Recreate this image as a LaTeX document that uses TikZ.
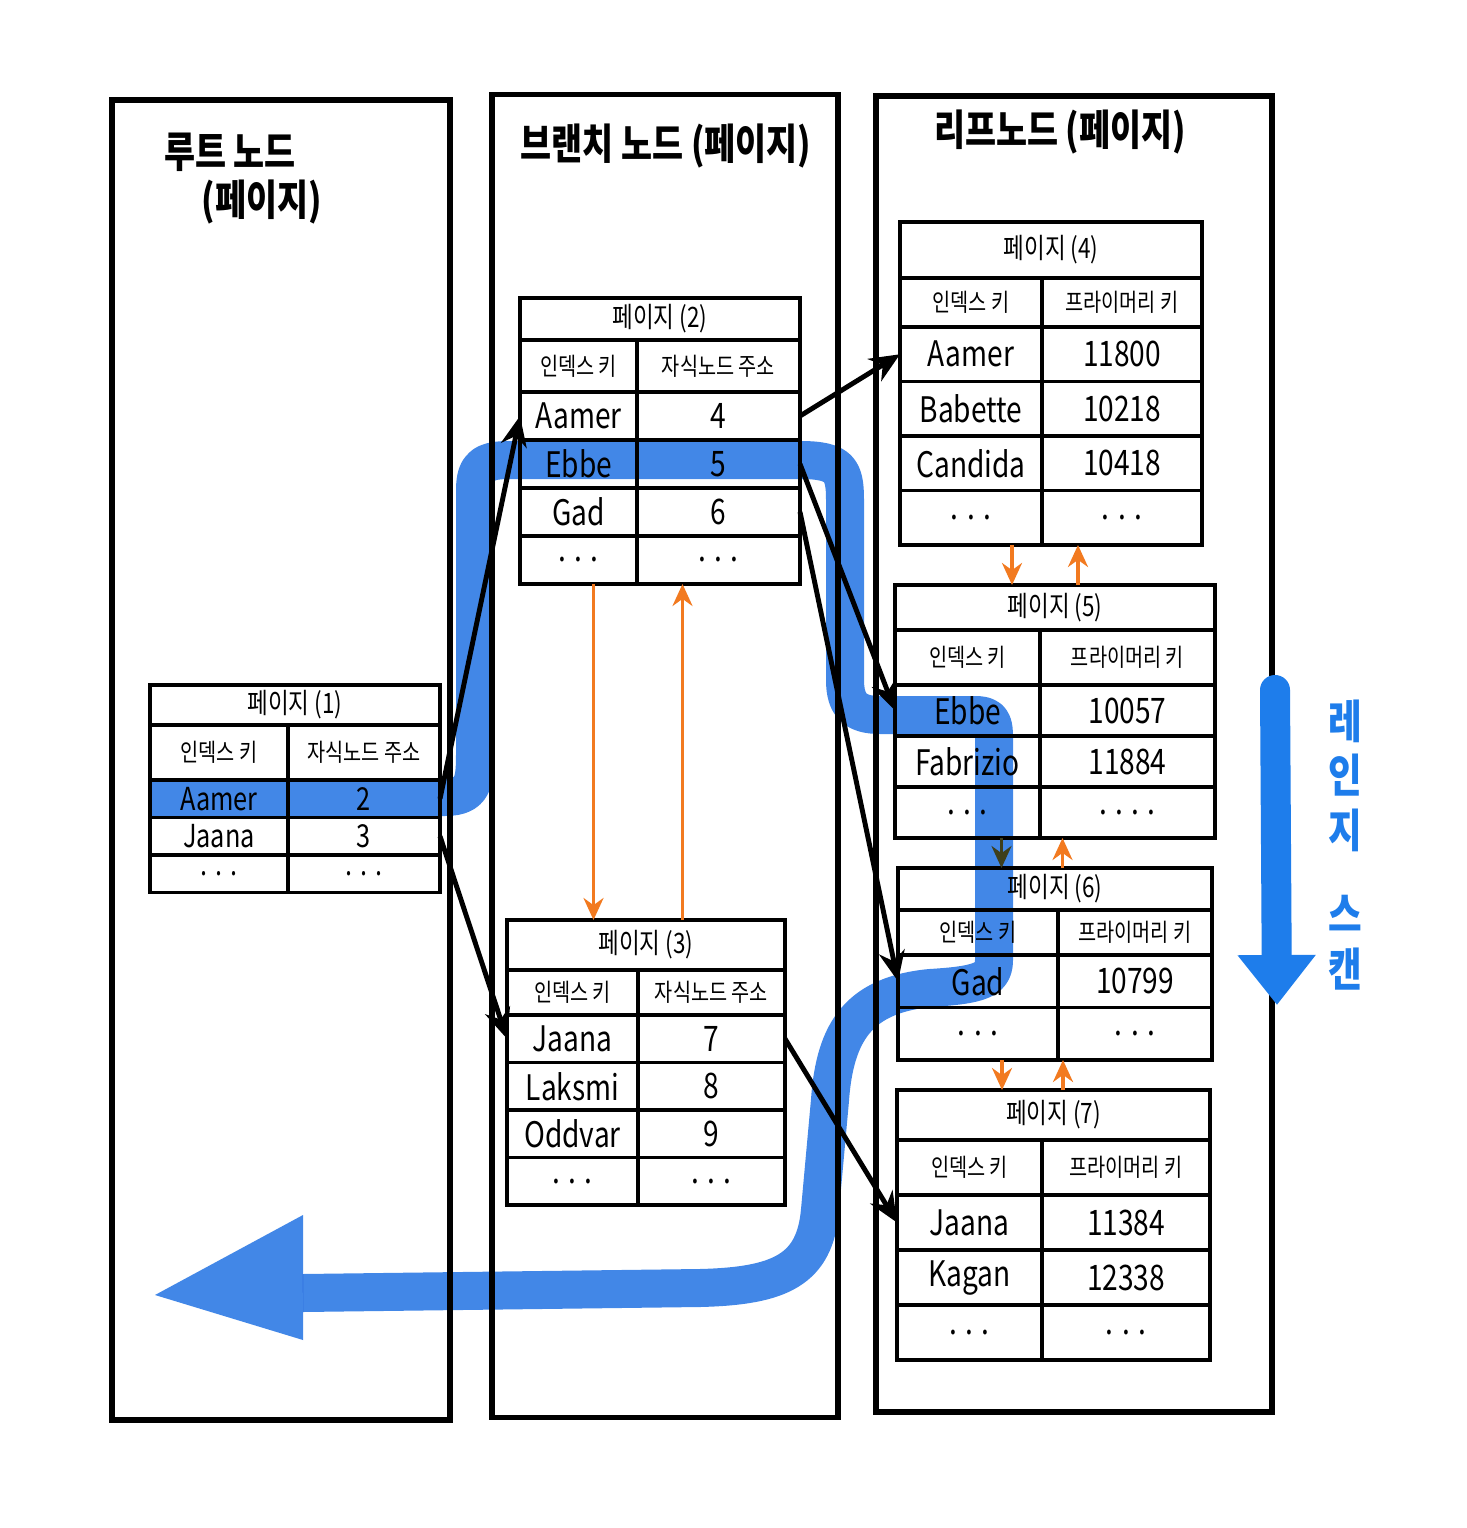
\documentclass[tikz,border=0pt]{standalone}
\usepackage{fontspec}
\setmainfont[FakeStretch=0.8]{Noto Sans CJK KR}
\usetikzlibrary{arrows.meta}
\usetikzlibrary{calc}
\usetikzlibrary{positioning}

\definecolor{hlblue}{RGB}{50,125,230}
\definecolor{scanblue}{RGB}{30,125,235}
\definecolor{linkorange}{RGB}{242,122,32}

\begin{document}
\begin{tikzpicture}[x=1mm, y=-1mm]
    \tikzset{
        every node/.style={font=\fontsize{10}{12}\selectfont},
        frame/.style={draw, line width=1.6pt, inner sep=0pt},
        coltitle/.style={font=\fontsize{12}{14}\selectfont\bfseries},
        cell/.style={draw, line width=1pt, inner sep=0pt, outer sep=0pt},
        pagetitle/.style={cell, font=\fontsize{8}{8}\selectfont},
        head/.style={font=\fontsize{7}{7}\selectfont},
        ptr/.style={line width=1.4pt, -{Stealth[length=3mm, width=2.6mm]}},
        link/.style={linkorange, line width=0.9pt, -{Stealth[length=2.2mm, width=2mm]}},
        marker/.style={hlblue, opacity=0.92, blend mode=multiply}
    }

    \fill[white] (0,0) rectangle (146.6,152.8);
    \useasboundingbox (0,0) rectangle (146.6,152.8);

    % draw the three levels
    \node[frame, minimum width=33.8mm, minimum height=132mm] (root) at (28.1,76) {};
    \node[frame, minimum width=34.6mm, minimum height=132.3mm] (branch) at (66.5,75.6) {};
    \node[frame, minimum width=39.6mm, minimum height=131.6mm] (leaf) at (107.4,75.4) {};
    \node[coltitle] (root-title) at (23,15.2) {루트 노드};
    \node[coltitle] (root-title2) at (26.2,20.2) {(페이지)};
    \node[coltitle] (branch-title) at (66.6,14.6) {브랜치 노드 (페이지)};
    \node[coltitle] (leaf-title) at (106,13.2) {리프노드 (페이지)};

    % draw page (1)
    \begin{scope}[kc/.style={cell, minimum width=13.8mm, minimum height=3.75mm, font=\fontsize{9}{9}\selectfont},
                  vc/.style={cell, minimum width=15.2mm, minimum height=3.75mm, font=\fontsize{9}{9}\selectfont},
                  hk/.style={kc, head, minimum height=5.5mm},
                  hv/.style={vc, head, minimum height=5.5mm}]
        \node[pagetitle, minimum width=29mm, minimum height=4mm, anchor=north west] (p1) at (15,68.5) {페이지 (1)};
        \node[hk, below right=0pt of p1.south west] (p1-hk) {인덱스 키};
        \node[hv, right=0pt of p1-hk] (p1-hv) {자식노드 주소};
        \node[kc, below=0pt of p1-hk] (p1-aamer) {Aamer};
        \node[vc, right=0pt of p1-aamer] (p1-aamer-v) {2};
        \node[kc, below=0pt of p1-aamer] (p1-jaana) {Jaana};
        \node[vc, right=0pt of p1-jaana] (p1-jaana-v) {3};
        \node[kc, below=0pt of p1-jaana] (p1-dots) {. . .};
        \node[vc, right=0pt of p1-dots] (p1-dots-v) {. . .};
    \end{scope}

    % draw page (2)
    \begin{scope}[kc/.style={cell, minimum width=11.7mm, minimum height=4.8mm},
                  vc/.style={cell, minimum width=16.3mm, minimum height=4.8mm},
                  hk/.style={kc, head, minimum height=5.2mm},
                  hv/.style={vc, head, minimum height=5.2mm}]
        \node[pagetitle, minimum width=28mm, minimum height=4.2mm, anchor=north west] (p2) at (52,29.8) {페이지 (2)};
        \node[hk, below right=0pt of p2.south west] (p2-hk) {인덱스 키};
        \node[hv, right=0pt of p2-hk] (p2-hv) {자식노드 주소};
        \node[kc, below=0pt of p2-hk] (p2-aamer) {Aamer};
        \node[vc, right=0pt of p2-aamer] (p2-aamer-v) {4};
        \node[kc, below=0pt of p2-aamer] (p2-ebbe) {Ebbe};
        \node[vc, right=0pt of p2-ebbe] (p2-ebbe-v) {5};
        \node[kc, below=0pt of p2-ebbe] (p2-gad) {Gad};
        \node[vc, right=0pt of p2-gad] (p2-gad-v) {6};
        \node[kc, below=0pt of p2-gad] (p2-dots) {. . .};
        \node[vc, right=0pt of p2-dots] (p2-dots-v) {. . .};
    \end{scope}

    % draw page (3)
    \begin{scope}[kc/.style={cell, minimum width=13.1mm, minimum height=4.75mm},
                  vc/.style={cell, minimum width=14.7mm, minimum height=4.75mm},
                  hk/.style={kc, head, minimum height=4.5mm},
                  hv/.style={vc, head, minimum height=4.5mm}]
        \node[pagetitle, minimum width=27.8mm, minimum height=5mm, anchor=north west] (p3) at (50.7,92) {페이지 (3)};
        \node[hk, below right=0pt of p3.south west] (p3-hk) {인덱스 키};
        \node[hv, right=0pt of p3-hk] (p3-hv) {자식노드 주소};
        \node[kc, below=0pt of p3-hk] (p3-jaana) {Jaana};
        \node[vc, right=0pt of p3-jaana] (p3-jaana-v) {7};
        \node[kc, below=0pt of p3-jaana] (p3-laksmi) {Laksmi};
        \node[vc, right=0pt of p3-laksmi] (p3-laksmi-v) {8};
        \node[kc, below=0pt of p3-laksmi] (p3-oddvar) {Oddvar};
        \node[vc, right=0pt of p3-oddvar] (p3-oddvar-v) {9};
        \node[kc, below=0pt of p3-oddvar] (p3-dots) {. . .};
        \node[vc, right=0pt of p3-dots] (p3-dots-v) {. . .};
    \end{scope}

    % draw page (4)
    \begin{scope}[kc/.style={cell, minimum width=14.2mm, minimum height=5.45mm},
                  vc/.style={cell, minimum width=16mm, minimum height=5.45mm},
                  hk/.style={kc, head, minimum height=4.9mm},
                  hv/.style={vc, head, minimum height=4.9mm}]
        \node[pagetitle, minimum width=30.2mm, minimum height=5.6mm, anchor=north west] (p4) at (90,22.2) {페이지 (4)};
        \node[hk, below right=0pt of p4.south west] (p4-hk) {인덱스 키};
        \node[hv, right=0pt of p4-hk] (p4-hv) {프라이머리 키};
        \node[kc, below=0pt of p4-hk] (p4-aamer) {Aamer};
        \node[vc, right=0pt of p4-aamer] (p4-aamer-v) {11800};
        \node[kc, below=0pt of p4-aamer] (p4-babette) {Babette};
        \node[vc, right=0pt of p4-babette] (p4-babette-v) {10218};
        \node[kc, below=0pt of p4-babette] (p4-candida) {Candida};
        \node[vc, right=0pt of p4-candida] (p4-candida-v) {10418};
        \node[kc, below=0pt of p4-candida] (p4-dots) {. . .};
        \node[vc, right=0pt of p4-dots] (p4-dots-v) {. . .};
    \end{scope}

    % draw page (5)
    \begin{scope}[kc/.style={cell, minimum width=14.5mm, minimum height=5.1mm},
                  vc/.style={cell, minimum width=17.5mm, minimum height=5.1mm},
                  hk/.style={kc, head, minimum height=5.5mm},
                  hv/.style={vc, head, minimum height=5.5mm}]
        \node[pagetitle, minimum width=32mm, minimum height=4.5mm, anchor=north west] (p5) at (89.5,58.5) {페이지 (5)};
        \node[hk, below right=0pt of p5.south west] (p5-hk) {인덱스 키};
        \node[hv, right=0pt of p5-hk] (p5-hv) {프라이머리 키};
        \node[kc, below=0pt of p5-hk] (p5-ebbe) {Ebbe};
        \node[vc, right=0pt of p5-ebbe] (p5-ebbe-v) {10057};
        \node[kc, below=0pt of p5-ebbe] (p5-fabrizio) {Fabrizio};
        \node[vc, right=0pt of p5-fabrizio] (p5-fabrizio-v) {11884};
        \node[kc, below=0pt of p5-fabrizio] (p5-dots) {. . .};
        \node[vc, right=0pt of p5-dots] (p5-dots-v) {. . . .};
    \end{scope}

    % draw page (6)
    \begin{scope}[kc/.style={cell, minimum width=16mm, minimum height=5.25mm},
                  vc/.style={cell, minimum width=15.4mm, minimum height=5.25mm},
                  hk/.style={kc, head, minimum height=4.5mm},
                  hv/.style={vc, head, minimum height=4.5mm}]
        \node[pagetitle, minimum width=31.4mm, minimum height=4.2mm, anchor=north west] (p6) at (89.8,86.8) {페이지 (6)};
        \node[hk, below right=0pt of p6.south west] (p6-hk) {인덱스 키};
        \node[hv, right=0pt of p6-hk] (p6-hv) {프라이머리 키};
        \node[kc, below=0pt of p6-hk] (p6-gad) {Gad};
        \node[vc, right=0pt of p6-gad] (p6-gad-v) {10799};
        \node[kc, below=0pt of p6-gad] (p6-dots) {. . .};
        \node[vc, right=0pt of p6-dots] (p6-dots-v) {. . .};
    \end{scope}

    % draw page (7)
    \begin{scope}[kc/.style={cell, minimum width=14.5mm, minimum height=5.5mm},
                  vc/.style={cell, minimum width=16.8mm, minimum height=5.5mm},
                  hk/.style={kc, head, minimum height=5.5mm},
                  hv/.style={vc, head, minimum height=5.5mm}]
        \node[pagetitle, minimum width=31.3mm, minimum height=5mm, anchor=north west] (p7) at (89.7,109) {페이지 (7)};
        \node[hk, below right=0pt of p7.south west] (p7-hk) {인덱스 키};
        \node[hv, right=0pt of p7-hk] (p7-hv) {프라이머리 키};
        \node[kc, below=0pt of p7-hk] (p7-jaana) {Jaana};
        \node[vc, right=0pt of p7-jaana] (p7-jaana-v) {11384};
        \node[kc, below=0pt of p7-jaana] (p7-kagan) {Kagan};
        \node[vc, right=0pt of p7-kagan] (p7-kagan-v) {12338};
        \node[kc, below=0pt of p7-kagan] (p7-dots) {. . .};
        \node[vc, right=0pt of p7-dots] (p7-dots-v) {. . .};
    \end{scope}

    % draw sibling links between pages
    \coordinate (d23) at ($(p2-dots.south)+(1.5,0)$);
    \coordinate (u32) at ($(p2-dots-v.south)+(-3.6,0)$);
    \coordinate (d45) at ($(p4-dots.south)+(4.1,0)$);
    \coordinate (u54) at ($(p4-dots-v.south)+(-4.4,0)$);
    \coordinate (d56) at ($(p5-dots.south)+(3.4,0)$);
    \coordinate (u65) at ($(p5-dots-v.south)+(-6.5,0)$);
    \coordinate (d67) at ($(p6-dots.south)+(2.4,0)$);
    \coordinate (u76) at ($(p6-dots-v.south)+(-7.2,0)$);
    \draw[link] (d23) -- (d23 |- p3.north);
    \draw[link] (u32 |- p3.north) -- (u32);
    \draw[link] (d45) -- (d45 |- p5.north);
    \draw[link] (u54 |- p5.north) -- (u54);
    \draw[link] (d56) -- (d56 |- p6.north);
    \draw[link] (u65 |- p6.north) -- (u65);
    \draw[link] (d67) -- (d67 |- p7.north);
    \draw[link] (u76 |- p7.north) -- (u76);

    % draw the scanned path
    \draw[marker, line width=3.8mm, line join=round]
        (15,79.7) -- (44.5,79.7) .. controls (47.5,79.7) and (47.5,78) .. (47.5,75)
        -- (47.5,49) .. controls (47.5,46.5) and (48.5,46) .. (51,46)
        -- (80,46) .. controls (84,46) and (84.5,47) .. (84.5,50)
        -- (84.5,68) .. controls (84.5,70.5) and (85.5,71.5) .. (88,71.5)
        -- (97.5,71.5) .. controls (99.4,71.5) and (99.4,72.5) .. (99.4,74)
        -- (99.4,96) .. controls (99.4,98) and (98,98.5) .. (93,98.8)
        .. controls (86,99.5) and (83.5,103) .. (83,110)
        -- (82,121) .. controls (81.5,127) and (78,128.6) .. (70,128.8)
        -- (30.3,129.3);
    \fill[marker] (15.5,129.5) -- (30.3,121.5) -- (30.3,134) -- cycle;

    % draw child pointers
    \draw[ptr] (p1-aamer-v.east) -- (p2-aamer.west);
    \draw[ptr] (p1-jaana-v.east) -- (p3-jaana.west);
    \draw[ptr] (p2-aamer-v.east) -- (p4-aamer.west);
    \draw[ptr] (p2-ebbe-v.east) -- (p5-ebbe.west);
    \draw[ptr] (p2-gad-v.east) -- (p6-gad.west);
    \draw[ptr] (p3-jaana-v.east) -- (p7-jaana.west);

    % draw range scan direction
    \coordinate (scan-start) at (127.5,69);
    \coordinate (scan-end) at (127.7,100.5);
    \draw[scanblue, line width=3mm, line cap=round, -{Triangle[length=5mm, width=7.5mm]}] (scan-start) -- (scan-end);
    \node[scanblue, align=center, font=\fontsize{13}{15.5}\selectfont\bfseries] (scan-label) at (134.5,84.5)
        {레\\인\\지\\[3mm]스\\캔};
\end{tikzpicture}
\end{document}
